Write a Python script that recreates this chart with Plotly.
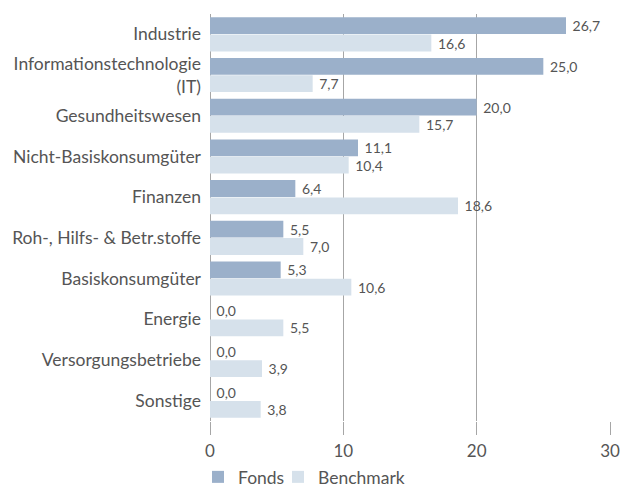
import plotly.graph_objects as go

categories = ["Industrie", "Informationstechnologie<br>(IT)", "Gesundheitswesen",
              "Nicht-Basiskonsumgüter", "Finanzen", "Roh-, Hilfs- & Betr.stoffe",
              "Basiskonsumgüter", "Energie", "Versorgungsbetriebe", "Sonstige"]
fonds = [26.7, 25.0, 20.0, 11.1, 6.4, 5.5, 5.3, 0.0, 0.0, 0.0]
benchmark = [16.6, 7.7, 15.7, 10.4, 18.6, 7.0, 10.6, 5.5, 3.9, 3.8]
x_ticks = [0, 10, 20, 30]

def fmt(v):
    return "\u00a0" + f"{v:.1f}".replace(".", ",")

font = "Lato"
txt = "#555555"
grid = "#a6a6a6"

fig = go.Figure()
fig.add_trace(go.Bar(y=categories, x=fonds, orientation="h", name="Fonds",
                     marker_color="#9bb0ca", marker_line_width=0,
                     text=[fmt(v) for v in fonds], legendwidth=35,
                     textposition="outside", cliponaxis=False,
                     textfont=dict(size=15, color=txt, family=font)))
fig.add_trace(go.Bar(y=categories, x=benchmark, orientation="h", name="Benchmark",
                     marker_color="#d6e1eb", marker_line_width=0,
                     text=[fmt(v) for v in benchmark], legendwidth=110,
                     textposition="outside", cliponaxis=False,
                     textfont=dict(size=15, color=txt, family=font)))

fig.update_layout(
    width=623, height=495,
    barmode="group", bargap=0.15, bargroupgap=0.03,
    margin=dict(l=210, r=13, t=14, b=74, autoexpand=False),
    plot_bgcolor="white", paper_bgcolor="white",
    font=dict(family=font, color=txt, size=17),
    legend=dict(orientation="h", x=-0.03, xanchor="left", y=-0.1818, yanchor="bottom",
                font=dict(size=17.5, color=txt, family=font), itemwidth=30,
                traceorder="normal", borderwidth=0),
    xaxis=dict(range=[0, 30], tickvals=x_ticks, showgrid=True, gridcolor=grid,
               gridwidth=1, zeroline=True, zerolinecolor=grid, zerolinewidth=1,
               ticks="outside", ticklen=13, tickcolor=grid, automargin=False,
               ticklabelstandoff=2, ticklabeloverflow="allow",
               tickfont=dict(size=17, color=txt, family=font), showline=False),
    yaxis=dict(autorange="reversed", showgrid=False, ticks="", ticklabelstandoff=8,
               automargin=False,
               tickfont=dict(size=17.5, color=txt, family=font)),
)

fig.write_html("out.html", config={"displayModeBar": False},
               post_script="document.body.style.margin='0px';document.body.style.overflow='hidden';")
